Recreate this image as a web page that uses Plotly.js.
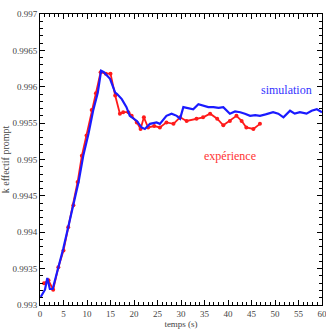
<!DOCTYPE html>
<html><head><meta charset="utf-8">
<script src="https://cdn.plot.ly/plotly-3.0.1.min.js"></script>
<style>html,body{margin:0;padding:0;background:#fff}</style>
</head><body><div id="chart" style="width:326px;height:336px"></div>
<script>
const simTime = [0.15,1.06,1.56,2.1,2.7,3.5,4.97,6.0,7.1,8.2,9.2,10.3,11.3,12.3,13.0,13.6,14.9,16.0,16.4,17.4,18.4,19.1,20.6,21.6,22.3,23.4,24.8,25.5,26.9,28.0,29.1,29.8,30.5,31.5,32.6,33.7,34.8,35.8,36.9,38.0,39.0,39.7,40.4,41.5,42.6,43.6,44.7,45.8,46.8,48.0,49.6,50.7,51.8,53.2,54.2,55.3,56.7,57.8,58.9,60];
const simValue = [0.99311,0.99321,0.99337,0.99322,0.99322,0.99341,0.99378,0.99407,0.99439,0.99469,0.99505,0.99535,0.99567,0.99592,0.99622,0.99620,0.99611,0.99592,0.99590,0.99583,0.99572,0.99560,0.99553,0.99544,0.99542,0.99549,0.99551,0.99549,0.99560,0.99563,0.99560,0.99556,0.99572,0.99571,0.99569,0.99576,0.99574,0.99572,0.99572,0.99571,0.99572,0.99567,0.99563,0.99566,0.99565,0.99563,0.99560,0.99561,0.99560,0.99562,0.99565,0.99563,0.99558,0.99567,0.99563,0.99565,0.99563,0.99567,0.99569,0.99565];
const expTime = [0.85,1.8,2.8,3.9,5.0,6.0,7.1,8.0,8.9,9.9,11.0,11.9,12.9,14.0,15.0,16.0,17.0,17.7,18.8,19.5,20.6,21.4,22.1,23.0,24.3,25.5,26.9,28.4,29.8,31.2,33.3,34.7,36.2,37.7,39.0,40.4,41.8,42.9,43.9,45.4,46.8];
const expValue = [0.99330,0.99334,0.99321,0.99352,0.99375,0.99407,0.99437,0.99469,0.99505,0.99533,0.99568,0.99591,0.99620,0.99618,0.99618,0.99588,0.99563,0.99565,0.99565,0.99560,0.99551,0.99542,0.99558,0.99544,0.99546,0.99544,0.99551,0.99549,0.99558,0.99553,0.99556,0.99558,0.99563,0.99556,0.99547,0.99553,0.99560,0.99553,0.99544,0.99542,0.99549];
const yTickVals = [0.993,0.9935,0.994,0.9945,0.995,0.9955,0.996,0.9965,0.997];
const yTickText = ['0.993','0.9935','0.994','0.9945','0.995','0.9955','0.996','0.9965','0.997'];

const font = 'Liberation Serif, serif';
const data = [
  {x: expTime, y: expValue, mode: 'lines+markers', line: {color: '#ff1a1a', width: 1.8}, marker: {color: '#ff1a1a', size: 4}, hoverinfo: 'skip'},
  {x: simTime, y: simValue, mode: 'lines', line: {color: '#1a1aff', width: 2.2}, hoverinfo: 'skip'}
];
const axisCommon = {showline: true, linecolor: '#000', linewidth: 1, mirror: 'allticks', ticks: 'inside', ticklen: 5, tickcolor: '#000', showgrid: false, zeroline: false, ticklabeloverflow: 'allow', tickfont: {family: font, size: 9, color: '#444'}};
const layout = {
  width: 326, height: 336,
  margin: {l: 40, r: 4, t: 14, b: 31},
  paper_bgcolor: '#fff', plot_bgcolor: '#fff',
  showlegend: false,
  xaxis: Object.assign({}, axisCommon, {range: [0, 60], tickvals: [0,5,10,15,20,25,30,35,40,45,50,55,60], minor: {dtick: 1, ticks: 'inside', ticklen: 3, tickcolor: '#000'}, title: {text: 'temps (s)', font: {family: font, size: 9, color: '#444'}, standoff: 2}}),
  yaxis: Object.assign({}, axisCommon, {range: [0.993, 0.997], tickvals: yTickVals, ticktext: yTickText, minor: {dtick: 0.0001, ticks: 'inside', ticklen: 3, tickcolor: '#000'}, title: {text: 'k effectif prompt', font: {family: font, size: 10, color: '#444'}, standoff: 2}}),
  annotations: [
    {x: 52.5, y: 0.99595, xref: 'x', yref: 'y', text: 'simulation', showarrow: false, font: {family: font, size: 12, color: '#3333ff'}},
    {x: 40.5, y: 0.99505, xref: 'x', yref: 'y', text: 'expérience', showarrow: false, font: {family: font, size: 12, color: '#ff3333'}}
  ]
};
Plotly.newPlot('chart', data, layout, {displayModeBar: false, staticPlot: true});
</script></body></html>
